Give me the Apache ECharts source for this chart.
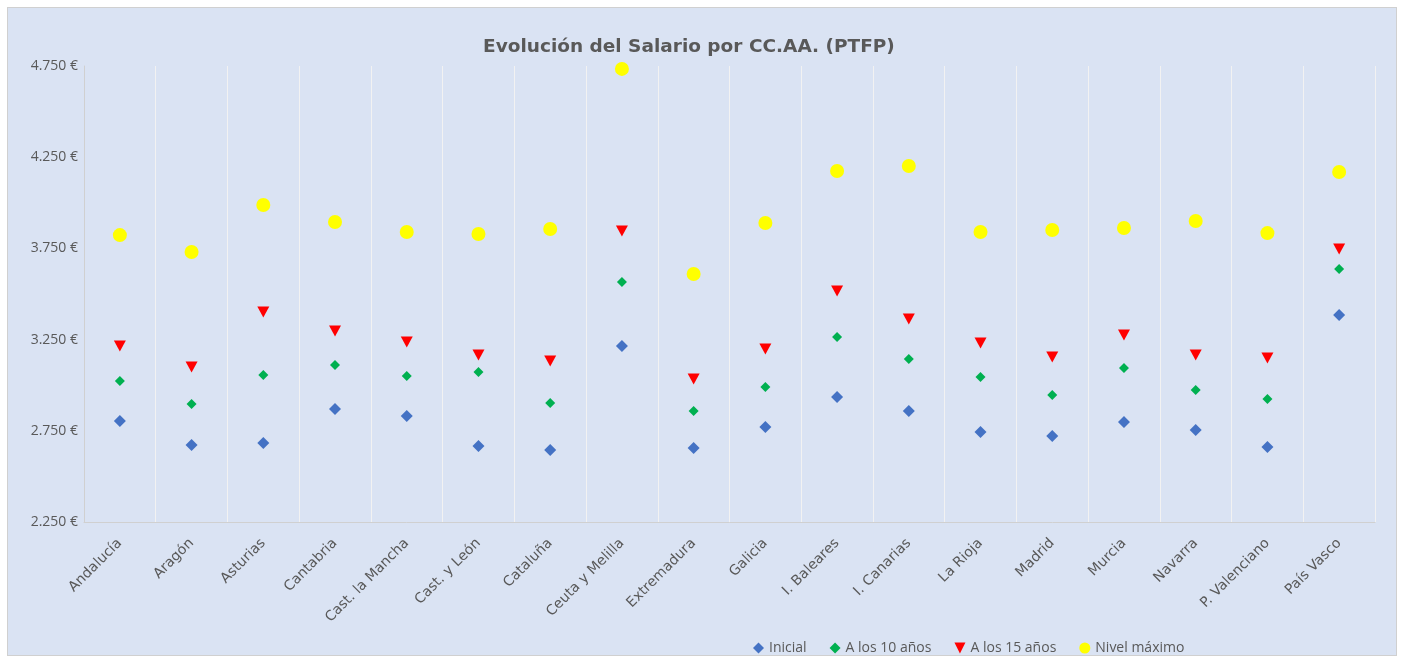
<!DOCTYPE html>
<html>
<head>
<meta charset="utf-8">
<script src="https://cdn.jsdelivr.net/npm/echarts@6/dist/echarts.min.js"></script>
<style>
  html, body { margin: 0; padding: 0; background: #ffffff; }
  #wrap { position: absolute; left: 7px; top: 7px; width: 1388px; height: 647px;
          background: #dae3f3; border: 1px solid #d0d0d0; }
  #chart { width: 1388px; height: 647px; }
</style>
</head>
<body>
<div id="wrap"><div id="chart"></div></div>
<script>
var regiones = ['Andalucía', 'Aragón', 'Asturias', 'Cantabria', 'Cast. la Mancha', 'Cast. y León',
    'Cataluña', 'Ceuta y Melilla', 'Extremadura', 'Galicia', 'I. Baleares', 'I. Canarias',
    'La Rioja', 'Madrid', 'Murcia', 'Navarra', 'P. Valenciano', 'País Vasco'];

var inicial = [2804, 2672, 2683, 2870, 2831, 2667, 2645, 3215, 2656, 2771, 2935, 2859, 2743, 2721, 2798, 2754, 2661, 3385];
var a10 = [3023, 2897, 3056, 3111, 3050, 3072, 2902, 3566, 2859, 2990, 3264, 3144, 3045, 2946, 3094, 2974, 2924, 3637];
var a15 = [3215, 3100, 3401, 3297, 3237, 3166, 3133, 3845, 3034, 3198, 3516, 3363, 3231, 3155, 3275, 3166, 3149, 3747];
var maximo = [3823, 3730, 3988, 3895, 3840, 3829, 3856, 4734, 3610, 3889, 4174, 4202, 3840, 3851, 3862, 3900, 3834, 4169];

var gris = '#595959';
var chart = echarts.init(document.getElementById('chart'));

function fmt(v) {
    var s = String(v);
    return s.slice(0, s.length - 3) + '.' + s.slice(-3) + ' €';
}

var option = {
    backgroundColor: 'transparent',
    textStyle: { fontFamily: 'Open Sans' },
    title: {
        text: 'Evolución del Salario por CC.AA. (PTFP)',
        left: 470,
        top: 25,
        textStyle: { color: gris, fontSize: 18.5, fontWeight: 'bold', fontFamily: 'DejaVu Sans' }
    },
    legend: {
        left: 740,
        top: 628,
        itemGap: 23,
        itemWidth: 11,
        itemHeight: 11,
        textStyle: { color: gris, fontSize: 14 },
        data: [
            { name: 'Inicial', icon: 'diamond' },
            { name: 'A los 10 años', icon: 'diamond' },
            { name: 'A los 15 años', icon: 'path://M0,0L10,0L5,10Z' },
            { name: 'Nivel máximo', icon: 'circle' }
        ]
    },
    grid: { left: 76, right: 21, top: 58, bottom: 133 },
    xAxis: {
        type: 'category',
        data: regiones,
        boundaryGap: true,
        axisLine: { lineStyle: { color: '#d0d0d0', width: 1 } },
        axisTick: { show: false },
        splitLine: { show: true, lineStyle: { color: '#f2f2f2', width: 1 } },
        axisLabel: {
            interval: 0,
            rotate: 45,
            color: gris,
            fontSize: 14,
            fontFamily: 'DejaVu Sans',
            margin: 19
        }
    },
    yAxis: {
        type: 'value',
        min: 2250,
        max: 4750,
        interval: 500,
        axisLine: { show: true, lineStyle: { color: '#d0d0d0' } },
        axisTick: { show: false },
        splitLine: { show: false },
        axisLabel: { color: gris, fontSize: 14, margin: 6, formatter: fmt }
    },
    series: [
        {
            name: 'Inicial', type: 'scatter', data: inicial,
            symbol: 'diamond', symbolSize: 12,
            itemStyle: { color: '#4472c4', opacity: 1 }
        },
        {
            name: 'A los 10 años', type: 'scatter', data: a10,
            symbol: 'diamond', symbolSize: 10,
            itemStyle: { color: '#00b050', opacity: 1 }
        },
        {
            name: 'A los 15 años', type: 'scatter', data: a15,
            symbol: 'triangle', symbolRotate: 180, symbolSize: [12, 11],
            itemStyle: { color: '#ff0000', opacity: 1 }
        },
        {
            name: 'Nivel máximo', type: 'scatter', data: maximo,
            symbol: 'circle', symbolSize: 14,
            itemStyle: { color: '#ffff00', opacity: 1 }
        }
    ]
};
chart.setOption(option);
</script>
</body>
</html>
